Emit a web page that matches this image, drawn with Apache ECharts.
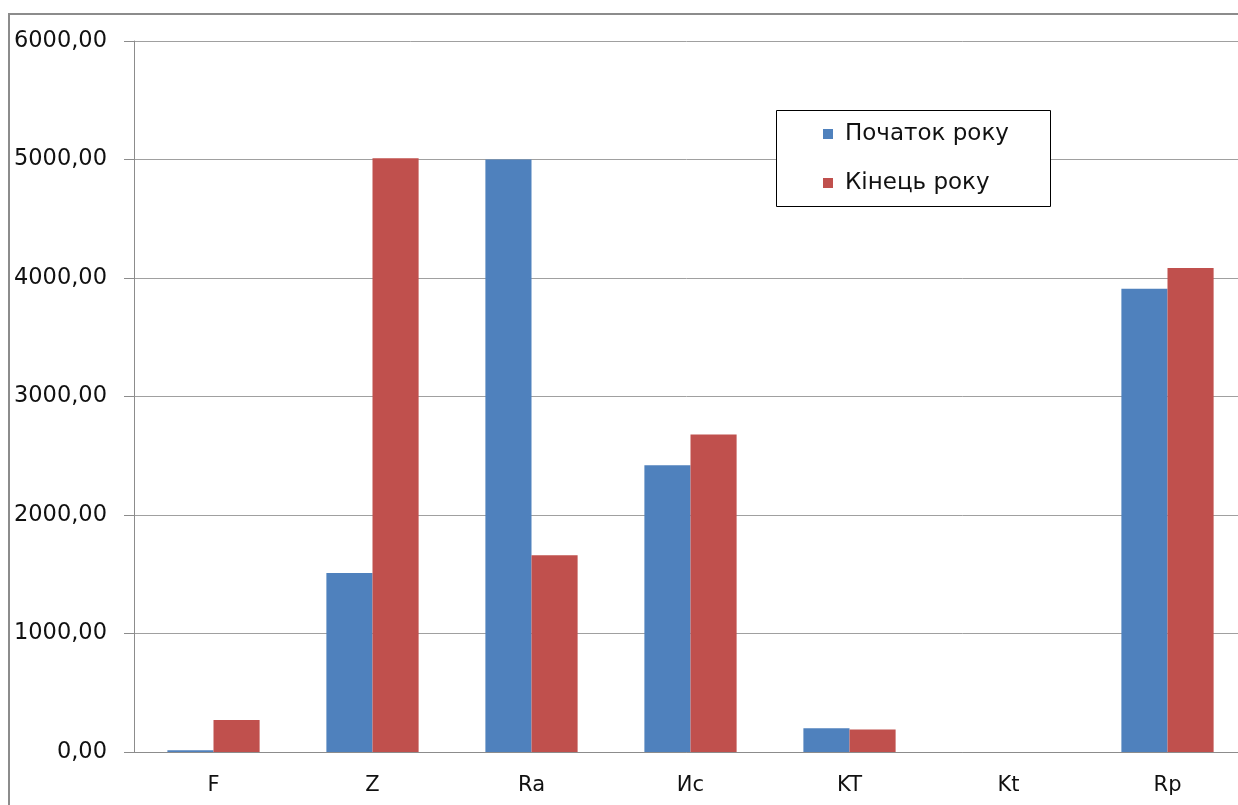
<!DOCTYPE html>
<html>
<head>
<meta charset="utf-8">
<script src="https://cdn.jsdelivr.net/npm/echarts@6/dist/echarts.min.js"></script>
<style>
  html, body { margin: 0; padding: 0; background: #fff; }
  #chart { width: 1238px; height: 805px; }
</style>
</head>
<body>
<div id="chart"></div>
<script>
// Categories and values for the two periods
const categories = ['F', 'Z', 'Ra', 'Ис', 'KT', 'Kt', 'Rp'];
const startOfYear = [15, 1510, 5000, 2420, 200, 0, 3910];
const endOfYear = [270, 5010, 1660, 2680, 190, 0, 4085];
const seriesNames = ['Початок року', 'Кінець року'];

const FONT = 'DejaVu Sans';
const chart = echarts.init(document.getElementById('chart'), null, { renderer: 'canvas' });

chart.setOption({
  animation: false,
  backgroundColor: '#ffffff',
  color: ['#4F81BD', '#C0504D'],
  graphic: [
    // outer chart frame
    { type: 'rect', x: 9, y: 14, shape: { x: 0, y: 0, width: 1260, height: 830 },
      style: { fill: 'none', stroke: '#8c8c8c', lineWidth: 2 }, z: 0 },
    // legend box
    { type: 'rect', x: 776.5, y: 110.5, shape: { x: 0, y: 0, width: 274, height: 96 },
      style: { fill: '#ffffff', stroke: '#000000', lineWidth: 1 }, z: 10 }
  ],
  legend: {
    orient: 'vertical',
    left: 823,
    top: 122,
    padding: 0,
    itemWidth: 10,
    itemHeight: 10,
    itemGap: 25,
    icon: 'rect',
    z: 20,
    textStyle: { fontFamily: FONT, fontSize: 23, color: '#111', lineHeight: 24, padding: [0, 0, 0, 7] },
    data: seriesNames
  },
  grid: { left: 134, top: 41, width: 1113, height: 711, containLabel: false, outerBoundsMode: 'none' },
  xAxis: {
    type: 'category',
    data: categories,
    axisLine: { lineStyle: { color: '#8c8c8c', width: 1 } },
    axisTick: { length: 8, lineStyle: { color: '#8c8c8c' } },
    axisLabel: { fontFamily: FONT, fontSize: 21, color: '#111', margin: 23 }
  },
  yAxis: {
    type: 'value',
    min: 0,
    max: 6000,
    interval: 1000,
    axisLine: { show: true, lineStyle: { color: '#8c8c8c', width: 1 } },
    axisTick: { show: true, length: 10, lineStyle: { color: '#8c8c8c' } },
    splitLine: { lineStyle: { color: '#a0a0a0', width: 1 } },
    axisLabel: {
      fontFamily: FONT, fontSize: 22.5, color: '#111', margin: 27,
      formatter: v => v.toFixed(2).replace('.', ',')
    }
  },
  series: [
    { name: seriesNames[0], type: 'bar', data: startOfYear, barGap: '0%', barCategoryGap: '42%' },
    { name: seriesNames[1], type: 'bar', data: endOfYear, barGap: '0%', barCategoryGap: '42%' }
  ]
});
</script>
</body>
</html>
